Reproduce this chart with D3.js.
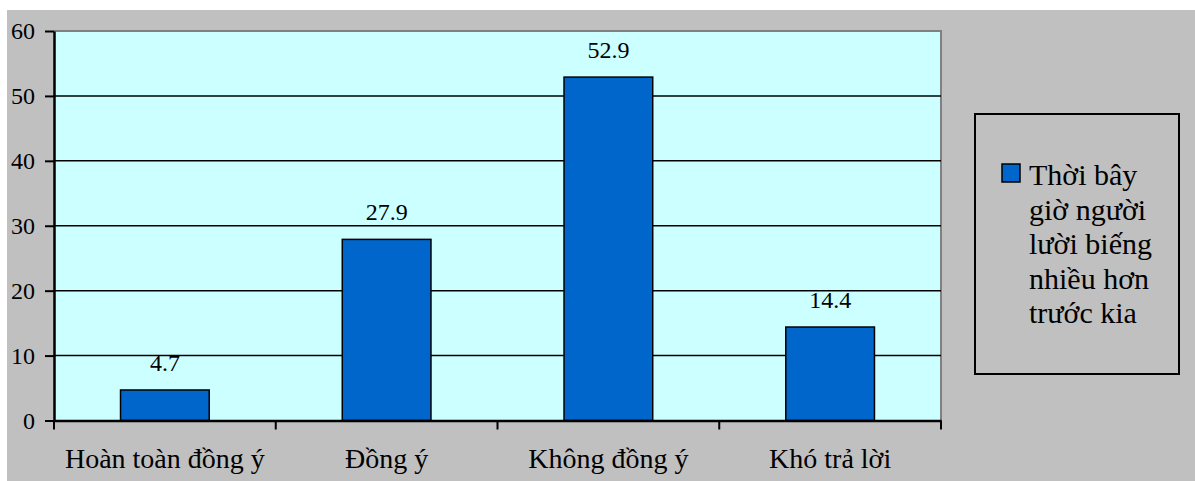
<!DOCTYPE html>
<html>
<head>
<meta charset="utf-8">
<script src="https://cdn.jsdelivr.net/npm/d3@7"></script>
</head>
<body style="margin:0">
<svg id="chart" width="1195" height="481"></svg>
<script>
// Survey answers
const categories = ["Hoàn toàn đồng ý", "Đồng ý", "Không đồng ý", "Khó trả lời"];
const values = [4.7, 27.9, 52.9, 14.4];
const yTicks = [0, 10, 20, 30, 40, 50, 60];
const seriesName = ["Thời bây", "giờ người", "lười biếng", "nhiều hơn", "trước kia"];

const FONT = "'Liberation Serif'";
const svg = d3.select("#chart").style("display", "block");
const W = 1195, H = 481;

// Chart background
svg.append("rect").attr("x", 7).attr("y", 10).attr("width", W - 7).attr("height", H - 10)
  .attr("fill", "#c0c0c0");

const plot = { left: 54, top: 31, right: 941, bottom: 420.5 };

const x = d3.scaleBand().domain(categories).range([plot.left, plot.right])
  .paddingInner(0.6).paddingOuter(0.3);
const y = d3.scaleLinear().domain([0, 60]).range([plot.bottom, plot.top]);

// Plot area
svg.append("rect")
  .attr("x", plot.left).attr("y", plot.top)
  .attr("width", plot.right - plot.left).attr("height", plot.bottom - plot.top)
  .attr("fill", "#ccffff");
// gray border on top and right of plot area
svg.append("path")
  .attr("d", `M${plot.left},${plot.top}H${plot.right}V${plot.bottom}`)
  .attr("fill", "none").attr("stroke", "#808080").attr("stroke-width", 2);

// Horizontal gridlines
svg.append("g").selectAll("line").data(yTicks.filter(t => t > 0 && t < 60)).join("line")
  .attr("x1", plot.left).attr("x2", plot.right)
  .attr("y1", d => y(d)).attr("y2", d => y(d))
  .attr("stroke", "#000").attr("stroke-width", 1.5);

// Bars
svg.append("g").selectAll("rect").data(values).join("rect")
  .attr("x", (d, i) => x(categories[i]))
  .attr("y", d => y(d))
  .attr("width", x.bandwidth())
  .attr("height", d => y(0) - y(d))
  .attr("fill", "#0066cc").attr("stroke", "#000").attr("stroke-width", 1.5);

// Y axis (line and ticks only; labels drawn below)
const yAxis = d3.axisLeft(y).tickValues(yTicks).tickSize(9).tickFormat("").tickSizeOuter(0);
const gy = svg.append("g").attr("transform", `translate(${plot.left},0)`).call(yAxis);
gy.select(".domain").attr("stroke", "#000").attr("stroke-width", 2.5);
gy.selectAll(".tick line").attr("stroke", "#000").attr("stroke-width", 2);
gy.selectAll(".tick text").remove();

// X axis line
const xAxis = d3.axisBottom(x).tickSize(0).tickFormat("").tickSizeOuter(0);
const gx = svg.append("g").attr("transform", `translate(0,${plot.bottom})`).call(xAxis);
gx.select(".domain").attr("stroke", "#000").attr("stroke-width", 2.5);
gx.selectAll(".tick text").remove();
const step = x.step();
const bounds = d3.range(categories.length + 1).map(i => plot.left + i * step);
svg.append("g").selectAll("line").data(bounds).join("line")
  .attr("x1", d => d).attr("x2", d => d)
  .attr("y1", plot.bottom).attr("y2", plot.bottom + 9)
  .attr("stroke", "#000").attr("stroke-width", 2);

// Y tick labels
svg.selectAll("text.ytl").data(yTicks).join("text")
  .attr("class", "ytl")
  .attr("x", plot.left - 19)
  .attr("y", d => y(d) + 8)
  .attr("text-anchor", "end")
  .style("font-family", FONT).style("font-size", "24px")
  .text(d => d);

// Category labels
svg.selectAll("text.xtl").data(categories).join("text")
  .attr("class", "xtl")
  .attr("x", d => x(d) + x.bandwidth() / 2)
  .attr("y", plot.bottom + 47.5)
  .attr("text-anchor", "middle")
  .style("font-family", FONT).style("font-size", "28px")
  .text(d => d);

// Value labels
svg.selectAll("text.val").data(values).join("text")
  .attr("class", "val")
  .attr("x", (d, i) => x(categories[i]) + x.bandwidth() / 2)
  .attr("y", d => y(d) - 19)
  .attr("text-anchor", "middle")
  .style("font-family", FONT).style("font-size", "24px")
  .text(d => d.toFixed(1));

// Legend
svg.append("rect").attr("x", 975).attr("y", 114).attr("width", 204).attr("height", 260)
  .attr("fill", "#c0c0c0").attr("stroke", "#000").attr("stroke-width", 2);
svg.append("rect").attr("x", 1002).attr("y", 164).attr("width", 18).attr("height", 18)
  .attr("fill", "#0066cc").attr("stroke", "#000").attr("stroke-width", 1.5);
svg.selectAll("text.lt").data(seriesName).join("text")
  .attr("class", "lt")
  .attr("x", 1029)
  .attr("y", (d, i) => 185 + i * 34.5)
  .style("font-family", FONT).style("font-size", "30px")
  .text(d => d);
</script>
</body>
</html>
